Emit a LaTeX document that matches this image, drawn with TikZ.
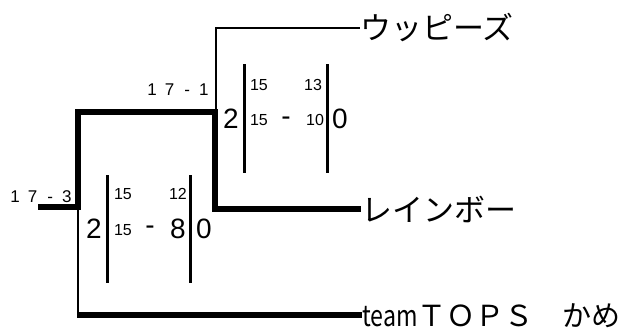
\documentclass[tikz,border=0pt]{standalone}
\usepackage{fontspec}
\setmainfont{Liberation Sans}
\newfontfamily\jp{Noto Sans CJK JP}
\usepackage{graphicx}
\begin{document}
\begin{tikzpicture}[x=1pt,y=-1pt,
  heavy/.style={line width=6.5pt,line join=miter,line cap=butt},
  light/.style={line width=1.3pt},
  bar/.style={line width=3pt},
  team/.style={inner sep=0pt,anchor=west,font=\jp\fontsize{31}{31}\selectfont},
  big/.style={inner sep=0pt,font=\fontsize{28}{28}\selectfont},
  small/.style={inner sep=0pt,font=\fontsize{16}{16}\selectfont},
  round/.style={inner sep=0pt,font=\fontsize{17}{17}\selectfont}]
\useasboundingbox (0,0) rectangle (632,332);
% team names
\node[team] (w) at (360,28) {ウッピーズ};
\node[team] (r) at (361,209) {レインボー};
\node[team,font=\jp\fontsize{29}{29}\selectfont] (t) at (362,316) {\scalebox{0.8}[1]{team}ＴＯＰＳ　かめ};
% junctions
\coordinate (root) at (38,207);
\coordinate (j1) at (78,207);
\coordinate (j2) at (215,112);
\coordinate (j2t) at (216,112);
\coordinate (b1) at (78,315);
% connectors
\draw[heavy] (root) -- (j1) |- (j2) |- (r.west);
\draw[light] (j2t) |- (w.west);
\draw[light] (j1) -- (b1);
\draw[heavy] ([xshift=-0.6pt]b1) -- (b1 -| t.west);
% round labels
\node[round] (l3) at (41,197) {1\kern8pt7\kern10pt-\kern9pt3};
\node[round] (l1) at (178,90) {1\kern8pt7\kern10pt-\kern9pt1};
% left match score
\coordinate (lb1t) at (107,175); \coordinate (lb1b) at (107,283);
\coordinate (lb2t) at (190,175); \coordinate (lb2b) at (190,283);
\draw[bar] (lb1t) -- (lb1b);
\draw[bar] (lb2t) -- (lb2b);
\node[big] (ls) at (94,229) {2};
\node[small] (la1) at (123,194) {15};
\node[small] (lb1) at (178,194) {12};
\node[small] (la2) at (123,230) {15};
\node[big] (ld) at (150,230) {-};
\node[big] (lb2) at (178,229) {8};
\node[big] (lt) at (204,229) {0};
% top match score
\coordinate (tb1t) at (244,64); \coordinate (tb1b) at (244,173);
\coordinate (tb2t) at (327,64); \coordinate (tb2b) at (327,173);
\draw[bar] (tb1t) -- (tb1b);
\draw[bar] (tb2t) -- (tb2b);
\node[big] (ts) at (231,119) {2};
\node[small] (ta1) at (259,85) {15};
\node[small] (tb1) at (313,85) {13};
\node[small] (ta2) at (259,120) {15};
\node[big] (td) at (286,121) {-};
\node[small] (tb2) at (315,120) {10};
\node[big] (tt) at (340,119) {0};
\end{tikzpicture}
\end{document}
